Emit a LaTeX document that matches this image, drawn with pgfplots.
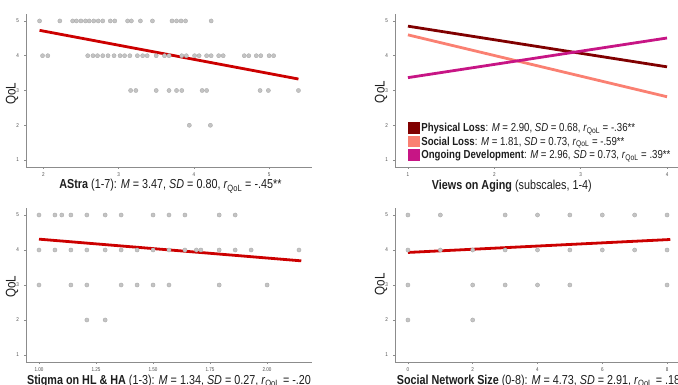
\documentclass[border=0pt]{standalone}
\usepackage{pgfplots}
\pgfplotsset{compat=1.18}
\usepackage{fontspec}
\setmainfont{Liberation Sans}[FakeStretch=0.83]
\definecolor{regred}{RGB}{204,0,0}
\definecolor{physloss}{RGB}{128,0,0}
\definecolor{socloss}{RGB}{250,128,114}
\definecolor{ongoing}{RGB}{199,21,133}
\definecolor{ptfill}{RGB}{196,196,196}
\definecolor{ptdraw}{RGB}{165,165,165}
\definecolor{axgray}{RGB}{140,140,140}
\definecolor{tickgray}{RGB}{77,77,77}
\definecolor{labtext}{RGB}{30,30,30}
\pgfplotsset{
  panel/.style={
    scale only axis,
    axis x line*=bottom, axis y line*=left,
    axis line style={draw=axgray, line width=0.8pt},
    every tick/.style={draw=axgray, line width=0.6pt},
    tick align=outside, major tick length=2pt,
    ymin=0.8, ymax=5.2, ytick={1,2,3,4,5},
    ticklabel style={font=\fontsize{5.5}{6.5}\selectfont, text=tickgray},
    /pgf/number format/assume math mode=true,
    xticklabel style={yshift=-0.5pt},
    yticklabel style={xshift=-1.5pt},
    ylabel={QoL},
    ylabel style={font=\fontsize{14}{16}\selectfont, text=labtext, anchor=center},
    xlabel style={font=\fontsize{13}{15}\selectfont, text=labtext},
    clip=false,
  },
  pts/.style={only marks, mark=*, mark size=2.1pt, mark options={fill=ptfill, draw=ptdraw, line width=0.3pt}},
  reg/.style={no marks, line width=2.8pt},
}
\begin{document}
\begin{tikzpicture}
\useasboundingbox (0,0) rectangle (678pt,385pt);
\clip (0,0) rectangle (678pt,385pt);
% Panel 1: AStra
\begin{axis}[panel, at={(26pt,218pt)}, anchor=south west, width=286pt, height=153pt,
  xmin=1.77, xmax=5.57, xtick={2,3,4,5},
  ylabel style={at={(rel axis cs:-0.049,0.478)}},
  xlabel={\textbf{AStra} (1-7): \textit{M} = 3.47, \textit{SD} = 0.80, \textit{r}\textsubscript{QoL} = -.45**},
  xlabel style={at={(rel axis cs:0.505,0)}, anchor=base, yshift=-22pt}]
\addplot[pts] coordinates {
 (1.95,5) (2.22,5) (2.39,5) (2.44,5) (2.50,5) (2.56,5) (2.61,5) (2.67,5) (2.73,5) (2.79,5)
 (2.89,5) (2.95,5) (3.12,5) (3.17,5) (3.29,5) (3.45,5) (3.71,5) (3.77,5) (3.83,5) (3.89,5) (4.23,5)
 (1.99,4) (2.06,4) (2.59,4) (2.66,4) (2.72,4) (2.79,4) (2.86,4) (2.94,4) (3.02,4) (3.08,4)
 (3.15,4) (3.25,4) (3.32,4) (3.38,4) (3.50,4) (3.61,4) (3.67,4) (3.84,4) (3.90,4) (4.01,4)
 (4.07,4) (4.17,4) (4.23,4) (4.33,4) (4.39,4) (4.67,4) (4.73,4) (4.83,4) (4.89,4) (5.00,4) (5.06,4)
 (3.16,3) (3.23,3) (3.50,3) (3.67,3) (3.77,3) (3.84,3) (4.11,3) (4.17,3) (4.88,3) (4.99,3) (5.39,3)
 (3.94,2) (4.22,2)
};
\addplot[reg, regred] coordinates {(1.95,4.73) (5.39,3.33)};
\end{axis}
% Panel 2: Views on Aging
\begin{axis}[panel, at={(395pt,218pt)}, anchor=south west, width=285pt, height=153pt,
  xmin=0.85, xmax=4.15, xtick={1,2,3,4},
  ylabel style={at={(rel axis cs:-0.049,0.49)}},
  xlabel={\textbf{Views on Aging} (subscales, 1-4)},
  xlabel style={at={(rel axis cs:0.41,0)}, anchor=base, yshift=-23pt},
  legend style={at={(rel axis cs:0.045,0.295)}, anchor=north west, draw=none, fill=none,
    font=\fontsize{11.6}{12.5}\selectfont, text=labtext, inner sep=0pt, row sep=1.8pt,
    nodes={inner xsep=1.5pt, inner ysep=0.5pt}},
  legend cell align=left,
  legend image code/.code={\fill[#1] (0pt,-4.5pt) rectangle (9pt,4.5pt);}]
\addplot[reg, physloss] coordinates {(1,4.85) (4,3.68)};
\addlegendentry{\textbf{Physical Loss}: \textit{M} = 2.90, \textit{SD} = 0.68, \textit{r}\textsubscript{QoL} = -.36**}
\addplot[reg, socloss] coordinates {(1,4.60) (4,2.82)};
\addlegendentry{\textbf{Social Loss}: \textit{M} = 1.81, \textit{SD} = 0.73, \textit{r}\textsubscript{QoL} = -.59**}
\addplot[reg, ongoing] coordinates {(1,3.37) (4,4.51)};
\addlegendentry{\textbf{Ongoing Development}: \textit{M} = 2.96, \textit{SD} = 0.73, \textit{r}\textsubscript{QoL} = .39**}
\end{axis}
% Panel 3: Stigma
\begin{axis}[panel, at={(26pt,23pt)}, anchor=south west, width=286pt, height=154pt,
  xmin=0.943, xmax=2.197, xtick={1,1.25,1.5,1.75,2}, xticklabels={1.00,1.25,1.50,1.75,2.00},
  ylabel style={at={(rel axis cs:-0.049,0.487)}},
  xlabel={\textbf{Stigma on HL \& HA} (1-3): \textit{M} = 1.34, \textit{SD} = 0.27, \textit{r}\textsubscript{QoL} = -.20},
  xlabel style={at={(rel axis cs:0.5,0)}, anchor=base, yshift=-22.5pt, fill=white, inner ysep=4pt}]
\addplot[pts] coordinates {
 (1.00,5) (1.07,5) (1.10,5) (1.14,5) (1.21,5) (1.29,5) (1.36,5) (1.50,5) (1.57,5) (1.64,5) (1.79,5) (1.86,5)
 (1.00,4) (1.07,4) (1.14,4) (1.21,4) (1.29,4) (1.36,4) (1.43,4) (1.50,4) (1.57,4) (1.64,4)
 (1.69,4) (1.71,4) (1.79,4) (1.86,4) (1.93,4) (2.14,4)
 (1.00,3) (1.14,3) (1.21,3) (1.36,3) (1.43,3) (1.50,3) (1.57,3) (1.79,3) (2.00,3)
 (1.21,2) (1.29,2)
};
\addplot[reg, regred] coordinates {(1.00,4.31) (2.15,3.69)};
\end{axis}
% Panel 4: Social Network Size
\begin{axis}[panel, at={(395pt,23pt)}, anchor=south west, width=285pt, height=154pt,
  xmin=-0.4, xmax=8.4, xtick={0,2,4,6,8},
  ylabel style={at={(rel axis cs:-0.049,0.506)}},
  xlabel={\textbf{Social Network Size} (0-8): \textit{M} = 4.73, \textit{SD} = 2.91, \textit{r}\textsubscript{QoL} = .18},
  xlabel style={at={(rel axis cs:0.006,0)}, anchor=base west, yshift=-22.5pt, fill=white, inner ysep=4pt, inner xsep=0pt}]
\addplot[pts] coordinates {
 (0,5) (1,5) (3,5) (4,5) (5,5) (6,5) (7,5) (8,5)
 (0,4) (1,4) (2,4) (3,4) (4,4) (5,4) (6,4) (7,4) (8,4)
 (0,3) (2,3) (3,3) (4,3) (5,3) (8,3)
 (0,2) (2,2)
};
\addplot[reg, regred] coordinates {(0,3.93) (8.1,4.30)};
\end{axis}
\end{tikzpicture}
\end{document}
